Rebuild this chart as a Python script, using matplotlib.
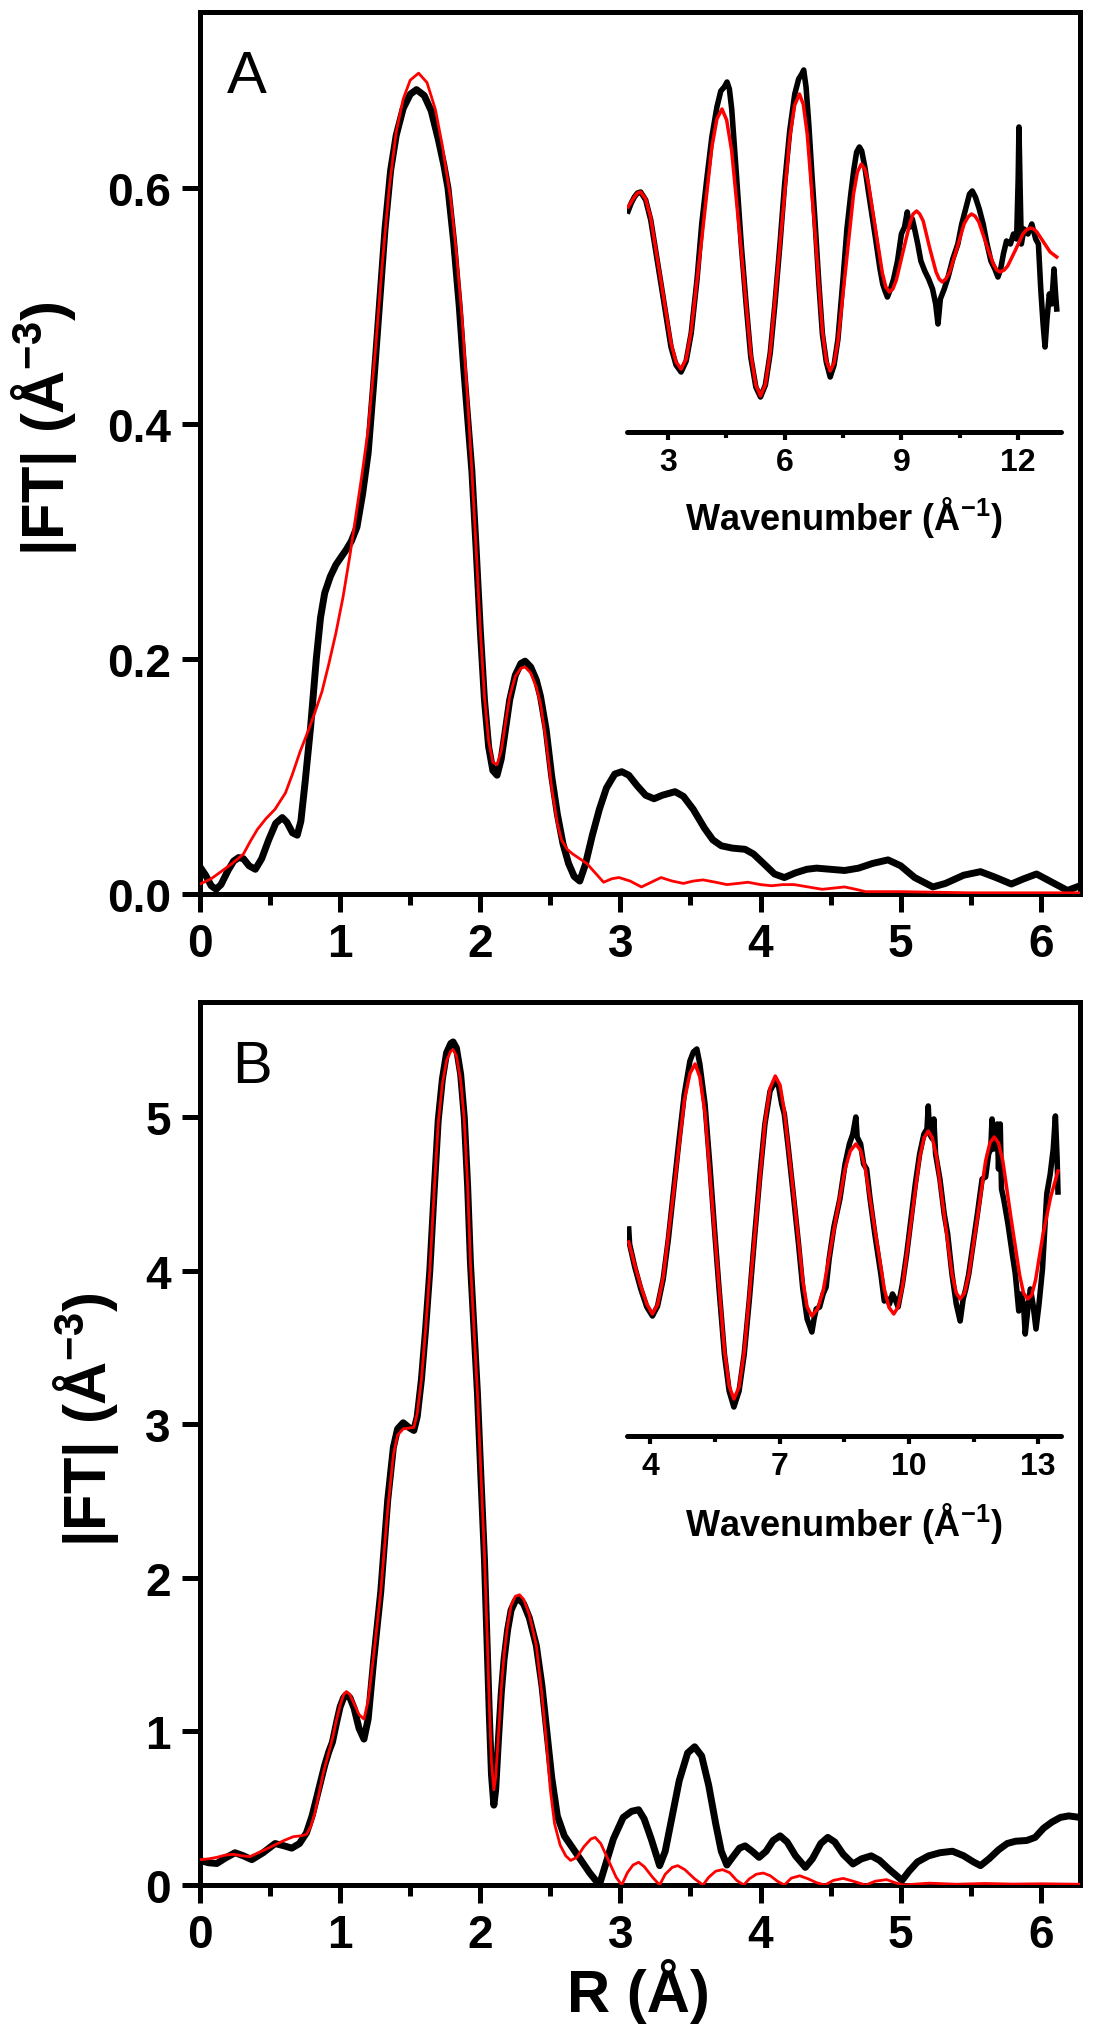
import matplotlib
matplotlib.use("Agg")
import matplotlib.pyplot as plt
from matplotlib.ticker import MultipleLocator, FixedLocator, FormatStrFormatter

plt.rcParams['font.family'] = ['Liberation Sans', 'DejaVu Sans']
plt.rcParams['mathtext.fontset'] = 'custom'
plt.rcParams['mathtext.rm'] = 'Liberation Sans'
plt.rcParams['mathtext.bf'] = 'Liberation Sans:bold'
plt.rcParams['mathtext.default'] = 'regular'

# ---- panel A : |FT| vs R ----
rA_exp = [0.00, 0.04, 0.08, 0.115, 0.15, 0.20, 0.24, 0.276, 0.31, 0.35, 0.395, 0.44, 0.49, 0.54, 0.587,
          0.62, 0.66, 0.694, 0.72, 0.75, 0.79, 0.83, 0.86, 0.89, 0.93, 0.97, 1.01, 1.045, 1.08, 1.12,
          1.16, 1.20, 1.24, 1.28, 1.32, 1.36, 1.40, 1.45, 1.50, 1.545, 1.60, 1.65, 1.70, 1.74, 1.77,
          1.81, 1.85, 1.88, 1.91, 1.94, 1.97, 2.00, 2.03, 2.06, 2.09, 2.12, 2.15, 2.18, 2.21, 2.25,
          2.29, 2.32, 2.36, 2.40, 2.43, 2.47, 2.51, 2.55, 2.59, 2.63, 2.67, 2.71, 2.75, 2.80, 2.85,
          2.90, 2.96, 3.01, 3.06, 3.12, 3.18, 3.24, 3.30, 3.39, 3.45, 3.52, 3.60, 3.66, 3.72, 3.80,
          3.89, 3.95, 4.03, 4.10, 4.17, 4.25, 4.33, 4.40, 4.50, 4.60, 4.70, 4.80, 4.91, 5.00, 5.10,
          5.23, 5.32, 5.45, 5.57, 5.68, 5.79, 5.88, 5.97, 6.08, 6.19, 6.28]
ftA_exp = [0.023, 0.016, 0.007, 0.004, 0.008, 0.020, 0.028, 0.031, 0.030, 0.024, 0.021, 0.030, 0.046, 0.060, 0.065,
           0.061, 0.052, 0.050, 0.062, 0.095, 0.143, 0.200, 0.235, 0.256, 0.270, 0.280, 0.287, 0.293, 0.300, 0.312,
           0.340, 0.375, 0.435, 0.500, 0.565, 0.615, 0.645, 0.668, 0.680, 0.684, 0.679, 0.666, 0.642, 0.620, 0.600,
           0.555, 0.500, 0.450, 0.405, 0.360, 0.295, 0.225, 0.165, 0.125, 0.105, 0.101, 0.115, 0.140, 0.165, 0.186,
           0.196, 0.198, 0.193, 0.182, 0.168, 0.140, 0.100, 0.068, 0.043, 0.026, 0.015, 0.011, 0.025, 0.050, 0.072,
           0.090, 0.102, 0.104, 0.101, 0.092, 0.084, 0.081, 0.084, 0.087, 0.083, 0.072, 0.056, 0.046, 0.041, 0.039,
           0.038, 0.034, 0.025, 0.017, 0.014, 0.018, 0.021, 0.022, 0.021, 0.020, 0.022, 0.026, 0.029, 0.024, 0.014,
           0.006, 0.009, 0.016, 0.019, 0.014, 0.0085, 0.013, 0.017, 0.010, 0.003, 0.007]
rA_fit = [0.00, 0.08, 0.15, 0.23, 0.31, 0.36, 0.41, 0.47, 0.535, 0.61, 0.66, 0.714, 0.77, 0.816, 0.87,
          0.918, 0.97, 1.02, 1.07, 1.12, 1.16, 1.20, 1.25, 1.30, 1.35, 1.40, 1.45, 1.50, 1.56, 1.62,
          1.68, 1.73, 1.79, 1.83, 1.87, 1.91, 1.94, 1.97, 2.00, 2.03, 2.06, 2.09, 2.12, 2.15, 2.18,
          2.21, 2.25, 2.29, 2.32, 2.36, 2.40, 2.43, 2.47, 2.51, 2.55, 2.58, 2.62, 2.66, 2.71, 2.76,
          2.82, 2.88, 2.94, 2.99, 3.07, 3.15, 3.22, 3.29, 3.37, 3.45, 3.52, 3.59, 3.68, 3.76, 3.84,
          3.91, 4.00, 4.08, 4.16, 4.24, 4.34, 4.44, 4.52, 4.60, 4.68, 4.75, 5.00, 5.50, 6.00, 6.28]
ftA_fit = [0.0085, 0.013, 0.019, 0.026, 0.034, 0.045, 0.055, 0.064, 0.072, 0.086, 0.102, 0.121, 0.138, 0.153, 0.172,
           0.195, 0.222, 0.252, 0.288, 0.328, 0.360, 0.395, 0.460, 0.535, 0.600, 0.648, 0.676, 0.692, 0.698, 0.690,
           0.667, 0.636, 0.590, 0.545, 0.490, 0.420, 0.360, 0.295, 0.225, 0.168, 0.130, 0.112, 0.110, 0.122, 0.145,
           0.168, 0.185, 0.192, 0.193, 0.188, 0.176, 0.162, 0.130, 0.090, 0.060, 0.046, 0.038, 0.034, 0.030, 0.026,
           0.018, 0.010, 0.013, 0.014, 0.011, 0.006, 0.010, 0.014, 0.011, 0.009, 0.011, 0.012, 0.010, 0.008, 0.009,
           0.010, 0.008, 0.007, 0.008, 0.008, 0.006, 0.004, 0.005, 0.006, 0.004, 0.002, 0.002, 0.001, 0.001, 0.001]

# ---- inset A : chi(k) ----
kA_exp = [1.98, 2.06, 2.14, 2.22, 2.30, 2.43, 2.56, 2.82, 3.08, 3.21, 3.34, 3.47, 3.60, 3.75, 3.87,
          4.00, 4.13, 4.26, 4.36, 4.45, 4.52, 4.58, 4.64, 4.76, 4.89, 5.01, 5.13, 5.26, 5.38, 5.505,
          5.63, 5.75, 5.88, 6.00, 6.13, 6.26, 6.36, 6.44, 6.49, 6.55, 6.62, 6.70, 6.78, 6.88, 6.97,
          7.07, 7.17, 7.27, 7.37, 7.50, 7.60, 7.70, 7.78, 7.85, 7.92, 7.98, 8.06, 8.15, 8.33, 8.45,
          8.52, 8.58, 8.64, 8.72, 8.80, 8.90, 9.00, 9.08, 9.15, 9.22, 9.28, 9.35, 9.42, 9.50, 9.60,
          9.70, 9.80, 9.88, 9.94, 10.00, 10.10, 10.20, 10.32, 10.45, 10.55, 10.65, 10.75, 10.82, 10.90,
          11.00, 11.10, 11.20, 11.30, 11.40, 11.48, 11.55, 11.62, 11.70, 11.80, 11.88, 11.96, 12.00,
          12.02, 12.05, 12.08, 12.15, 12.25, 12.35, 12.45, 12.52, 12.58, 12.64, 12.69, 12.74, 12.80,
          12.86, 12.92, 12.96, 12.99]
chiA_exp = [0.38, 0.46, 0.52, 0.56, 0.57, 0.49, 0.29, -0.34, -0.98, -1.16, -1.23, -1.12, -0.84, -0.30, 0.25,
            0.70, 1.12, 1.42, 1.58, 1.62, 1.67, 1.60, 1.40, 0.75, 0.02, -0.55, -1.08, -1.38, -1.48, -1.36,
            -1.04, -0.55, 0.05, 0.65, 1.18, 1.55, 1.70, 1.75, 1.79, 1.62, 1.25, 0.75, 0.28, -0.35, -0.85,
            -1.13, -1.28, -1.16, -0.90, -0.30, 0.20, 0.55, 0.80, 0.97, 1.02, 0.98, 0.82, 0.58, 0.12, -0.20,
            -0.35, -0.42, -0.48, -0.40, -0.30, -0.12, 0.15, 0.22, 0.37, 0.22, 0.30, 0.18, 0.05, -0.12, -0.22,
            -0.30, -0.40, -0.55, -0.75, -0.50, -0.40, -0.28, -0.10, 0.05, 0.25, 0.40, 0.55, 0.58, 0.52,
            0.40, 0.25, 0.05, -0.12, -0.20, -0.28, -0.20, -0.05, 0.08, 0.05, 0.15, 0.10, 0.70,
            1.22, 0.60, 0.05, 0.20, 0.15, 0.25, 0.10, 0.05, -0.40, -0.75, -0.98, -0.70, -0.45,
            -0.55, -0.20, -0.45, -0.60]
kA_fit = [1.98, 2.06, 2.14, 2.22, 2.30, 2.43, 2.56, 2.82, 3.08, 3.21, 3.34, 3.47, 3.60, 3.87, 4.13,
          4.26, 4.39, 4.51, 4.64, 4.89, 5.13, 5.26, 5.38, 5.505, 5.63, 5.88, 6.13, 6.255, 6.38, 6.48,
          6.58, 6.78, 6.97, 7.07, 7.17, 7.27, 7.37, 7.57, 7.77, 7.87, 7.97, 8.06, 8.15, 8.33, 8.51,
          8.60, 8.69, 8.78, 8.87, 9.04, 9.22, 9.30, 9.39, 9.47, 9.56, 9.72, 9.89, 9.97, 10.05, 10.14,
          10.24, 10.43, 10.61, 10.71, 10.80, 10.89, 10.99, 11.17, 11.36, 11.45, 11.54, 11.64, 11.73,
          11.93, 12.12, 12.21, 12.31, 12.40, 12.48, 12.65, 12.82, 12.99]
chiA_fit = [0.42, 0.47, 0.52, 0.56, 0.57, 0.50, 0.31, -0.315, -0.94, -1.13, -1.20, -1.10, -0.82, 0.10, 1.02,
            1.30, 1.40, 1.29, 0.98, -0.035, -1.05, -1.36, -1.47, -1.355, -1.03, 0.04, 1.11, 1.435, 1.55, 1.445,
            1.15, 0.17, -0.82, -1.115, -1.22, -1.14, -0.92, -0.19, 0.55, 0.77, 0.85, 0.80, 0.66, 0.21, -0.24,
            -0.38, -0.43, -0.40, -0.31, -0.03, 0.26, 0.35, 0.38, 0.35, 0.28, 0.02, -0.23, -0.30, -0.33, -0.30,
            -0.23, 0.01, 0.25, 0.32, 0.35, 0.33, 0.27, 0.06, -0.15, -0.21, -0.23, -0.21, -0.17,
            -0.01, 0.15, 0.19, 0.21, 0.20, 0.17, 0.07, -0.03, -0.08]

# ---- panel B : |FT| vs R ----
rB_exp = [0.00, 0.06, 0.12, 0.18, 0.25, 0.31, 0.37, 0.45, 0.536, 0.60, 0.655, 0.71, 0.76, 0.80, 0.83,
          0.86, 0.89, 0.92, 0.945, 0.975, 1.00, 1.025, 1.045, 1.07, 1.10, 1.135, 1.17, 1.20, 1.24, 1.29,
          1.34, 1.38, 1.41, 1.45, 1.49, 1.526, 1.55, 1.58, 1.61, 1.64, 1.67, 1.70, 1.73, 1.76, 1.79,
          1.806, 1.83, 1.86, 1.886, 1.91, 1.93, 1.955, 1.98, 2.005, 2.03, 2.05, 2.065, 2.08, 2.097, 2.11,
          2.13, 2.15, 2.17, 2.195, 2.22, 2.25, 2.28, 2.31, 2.35, 2.40, 2.44, 2.47, 2.51, 2.55, 2.60,
          2.66, 2.72, 2.78, 2.85, 2.90, 2.95, 3.02, 3.08, 3.13, 3.17, 3.22, 3.28, 3.32, 3.37, 3.42,
          3.48, 3.53, 3.58, 3.63, 3.68, 3.72, 3.76, 3.80, 3.85, 3.89, 3.94, 3.99, 4.04, 4.09, 4.14,
          4.19, 4.25, 4.32, 4.37, 4.43, 4.48, 4.53, 4.59, 4.66, 4.72, 4.79, 4.85, 4.92, 5.01, 5.06,
          5.12, 5.20, 5.28, 5.37, 5.45, 5.52, 5.57, 5.63, 5.70, 5.76, 5.82, 5.90, 5.96, 6.02, 6.08,
          6.14, 6.20, 6.28]
ftB_exp = [0.16, 0.145, 0.14, 0.175, 0.21, 0.19, 0.165, 0.21, 0.27, 0.255, 0.24, 0.27, 0.34, 0.45, 0.56,
           0.67, 0.78, 0.87, 0.93, 1.06, 1.16, 1.22, 1.24, 1.22, 1.15, 1.02, 0.95, 1.08, 1.47, 1.91,
           2.51, 2.85, 2.97, 3.01, 2.98, 2.96, 3.05, 3.29, 3.62, 4.00, 4.50, 4.98, 5.25, 5.42, 5.48,
           5.49, 5.45, 5.28, 5.00, 4.55, 4.05, 3.62, 3.20, 2.65, 2.12, 1.55, 1.10, 0.72, 0.52, 0.62,
           0.95, 1.25, 1.47, 1.66, 1.79, 1.85, 1.86, 1.83, 1.74, 1.56, 1.30, 1.04, 0.70, 0.45, 0.32,
           0.24, 0.16, 0.08, 0.00, 0.15, 0.30, 0.44, 0.48, 0.49, 0.43, 0.30, 0.126, 0.22, 0.45, 0.68,
           0.86, 0.90, 0.84, 0.65, 0.40, 0.22, 0.13, 0.18, 0.24, 0.255, 0.22, 0.18, 0.22, 0.29, 0.32,
           0.28, 0.19, 0.115, 0.17, 0.27, 0.31, 0.28, 0.20, 0.137, 0.17, 0.19, 0.16, 0.10, 0.03, 0.09,
           0.15, 0.19, 0.21, 0.22, 0.19, 0.15, 0.126, 0.17, 0.23, 0.27, 0.285, 0.29, 0.31, 0.37, 0.41,
           0.44, 0.45, 0.44]
rB_fit = [0.00, 0.06, 0.12, 0.18, 0.24, 0.30, 0.357, 0.44, 0.52, 0.60, 0.667, 0.72, 0.76, 0.79, 0.82,
          0.85, 0.88, 0.915, 0.947, 0.975, 1.00, 1.025, 1.045, 1.07, 1.10, 1.135, 1.17, 1.20, 1.24, 1.29,
          1.34, 1.38, 1.41, 1.45, 1.49, 1.526, 1.55, 1.58, 1.61, 1.64, 1.67, 1.70, 1.73, 1.76, 1.79,
          1.806, 1.83, 1.86, 1.886, 1.91, 1.93, 1.955, 1.98, 2.005, 2.03, 2.05, 2.065, 2.08, 2.097, 2.11,
          2.13, 2.15, 2.17, 2.195, 2.22, 2.25, 2.28, 2.31, 2.35, 2.40, 2.44, 2.47, 2.50, 2.53, 2.57,
          2.61, 2.645, 2.69, 2.74, 2.79, 2.82, 2.86, 2.92, 2.97, 3.01, 3.05, 3.09, 3.13, 3.17, 3.23,
          3.28, 3.32, 3.37, 3.41, 3.46, 3.53, 3.59, 3.63, 3.68, 3.73, 3.78, 3.83, 3.88, 3.92, 3.97,
          4.02, 4.07, 4.12, 4.17, 4.22, 4.28, 4.34, 4.40, 4.46, 4.52, 4.59, 4.66, 4.75, 4.82, 4.90,
          4.96, 5.02, 5.20, 5.40, 5.60, 5.80, 6.00, 6.28]
ftB_fit = [0.165, 0.17, 0.18, 0.195, 0.20, 0.19, 0.185, 0.22, 0.255, 0.29, 0.315, 0.32, 0.33, 0.38, 0.47,
           0.60, 0.73, 0.85, 0.96, 1.08, 1.17, 1.24, 1.26, 1.24, 1.18, 1.11, 1.08, 1.20, 1.50, 1.91,
           2.45, 2.80, 2.93, 2.97, 2.975, 2.98, 3.07, 3.29, 3.62, 4.00, 4.50, 4.96, 5.22, 5.37, 5.43,
           5.44, 5.40, 5.24, 4.98, 4.55, 4.05, 3.62, 3.20, 2.67, 2.15, 1.60, 1.16, 0.80, 0.62, 0.70,
           0.98, 1.28, 1.50, 1.69, 1.82, 1.88, 1.89, 1.86, 1.76, 1.56, 1.24, 0.95, 0.62, 0.40, 0.26,
           0.19, 0.16, 0.18, 0.25, 0.30, 0.31, 0.27, 0.15, 0.05, 0.00, 0.08, 0.13, 0.148, 0.12, 0.05,
           0.00, 0.07, 0.115, 0.126, 0.10, 0.04, 0.00, 0.05, 0.09, 0.10, 0.08, 0.03, 0.00, 0.04, 0.07,
           0.078, 0.06, 0.025, 0.00, 0.045, 0.06, 0.04, 0.015, 0.00, 0.03, 0.043, 0.025, 0.00, 0.025, 0.035,
           0.015, 0.00, 0.012, 0.005, 0.01, 0.006, 0.008, 0.005]

# ---- inset B : chi(k) ----
kB_exp = [3.50, 3.52, 3.64, 3.78, 3.92, 4.05, 4.17, 4.30, 4.42, 4.55, 4.67, 4.79, 4.92, 5.00, 5.08,
          5.15, 5.27, 5.38, 5.49, 5.60, 5.72, 5.83, 5.94, 6.06, 6.18, 6.30, 6.42, 6.54, 6.66, 6.78,
          6.90, 6.98, 7.05, 7.11, 7.20, 7.33, 7.44, 7.54, 7.64, 7.75, 7.80, 7.85, 7.93, 8.01, 8.08,
          8.15, 8.26, 8.40, 8.52, 8.62, 8.70, 8.77, 8.80, 8.88, 8.95, 9.02, 9.10, 9.21, 9.35, 9.43,
          9.50, 9.55, 9.62, 9.68, 9.75, 9.85, 9.95, 10.05, 10.15, 10.25, 10.35, 10.42, 10.45, 10.48,
          10.55, 10.58, 10.62, 10.72, 10.82, 10.90, 11.00, 11.10, 11.19, 11.26, 11.32, 11.39, 11.49,
          11.59, 11.70, 11.78, 11.85, 11.90, 11.93, 11.97, 12.00, 12.05, 12.08, 12.12, 12.15, 12.20,
          12.30, 12.40, 12.47, 12.55, 12.60, 12.66, 12.70, 12.76, 12.82, 12.88, 12.95, 13.02, 13.10,
          13.20, 13.28, 13.35, 13.40, 13.44, 13.46]
chiB_exp = [0.20, 0.05, -0.18, -0.40, -0.58, -0.67, -0.57, -0.30, 0.10, 0.62, 1.10, 1.55, 1.88, 1.97, 2.00,
            1.85, 1.45, 0.85, 0.20, -0.42, -1.05, -1.42, -1.58, -1.42, -1.05, -0.50, 0.12, 0.72, 1.25, 1.58,
            1.68, 1.62, 1.45, 1.35, 1.02, 0.50, 0.05, -0.40, -0.70, -0.83, -0.70, -0.60, -0.58, -0.45, -0.38,
            -0.10, 0.22, 0.50, 0.85, 1.05, 1.15, 1.32, 1.12, 1.05, 0.85, 0.80, 0.50, 0.15, -0.25, -0.52,
            -0.50, -0.55, -0.45, -0.50, -0.58, -0.35, -0.05, 0.30, 0.65, 0.95, 1.15, 1.20, 1.43, 1.15,
            1.10, 1.30, 0.95, 0.70, 0.35, 0.15, -0.25, -0.55, -0.72, -0.50, -0.40, -0.25, 0.05,
            0.35, 0.70, 0.72, 0.95, 1.00, 1.30, 1.00, 1.10, 1.25, 0.80, 1.25, 0.60, 0.50,
            0.25, -0.05, -0.25, -0.62, -0.45, -0.55, -0.85, -0.60, -0.40, -0.55, -0.80, -0.55, -0.20,
            0.55, 0.75, 1.00, 1.33, 0.90, 0.57]
kB_fit = [3.50, 3.64, 3.78, 3.92, 4.05, 4.17, 4.30, 4.55, 4.79, 4.92, 5.04, 5.15, 5.27, 5.49, 5.72,
          5.83, 5.94, 6.06, 6.18, 6.42, 6.66, 6.78, 6.90, 7.01, 7.11, 7.33, 7.54, 7.64, 7.75, 7.88,
          8.01, 8.26, 8.52, 8.64, 8.77, 8.88, 8.99, 9.21, 9.43, 9.54, 9.65, 9.75, 9.85, 10.05, 10.25,
          10.35, 10.45, 10.54, 10.64, 10.82, 11.00, 11.10, 11.19, 11.29, 11.39, 11.59, 11.78, 11.88,
          11.98, 12.08, 12.18, 12.37, 12.57, 12.66, 12.76, 12.85, 12.94, 13.11, 13.29, 13.46]
chiB_fit = [0.07, -0.16, -0.37, -0.55, -0.65, -0.555, -0.285, 0.60, 1.485, 1.755, 1.85, 1.72, 1.36, 0.175, -1.01,
            -1.37, -1.50, -1.38, -1.03, 0.115, 1.26, 1.61, 1.73, 1.64, 1.38, 0.53, -0.32, -0.58, -0.67, -0.60,
            -0.42, 0.19, 0.80, 0.98, 1.05, 0.985, 0.80, 0.20, -0.40, -0.585, -0.65, -0.58, -0.38, 0.265, 0.91,
            1.11, 1.18, 1.115, 0.93, 0.34, -0.25, -0.44, -0.50, -0.44, -0.26, 0.31, 0.88, 1.06,
            1.12, 1.06, 0.88, 0.31, -0.26, -0.44, -0.50, -0.46, -0.31, 0.14, 0.52, 0.78]

W, H = 1094, 2040
fig = plt.figure(figsize=(W / 100, H / 100), dpi=100)


def box(x0, y0, x1, y1):
    # pixel box -> figure fraction
    return [x0 / W, 1 - y1 / H, (x1 - x0) / W, (y1 - y0) / H]


def style_main(ax, ymax, ystep):
    ax.set_xlim(0, 6.28)
    ax.set_ylim(0, ymax)
    for s in ax.spines.values():
        s.set_linewidth(3.6)
    ax.xaxis.set_major_locator(MultipleLocator(1))
    ax.xaxis.set_minor_locator(MultipleLocator(0.5))
    ax.yaxis.set_major_locator(MultipleLocator(ystep))
    ax.tick_params(which='major', direction='out', length=13, width=3.6, labelsize=33, pad=7)
    ax.tick_params(axis='y', which='major', pad=8)
    ax.tick_params(which='minor', direction='out', length=8, width=3.6)
    ax.tick_params(top=False, right=False, which='both')
    for lab in ax.get_xticklabels() + ax.get_yticklabels():
        lab.set_fontweight('bold')


def style_inset(ax, xlim, ylim, majors, minors):
    ax.set_xlim(*xlim)
    ax.set_ylim(*ylim)
    ax.patch.set_visible(False)
    for side in ['left', 'top', 'right']:
        ax.spines[side].set_visible(False)
    ax.spines['bottom'].set_linewidth(3.6)
    ax.spines['bottom'].set_capstyle('round')
    ax.set_yticks([])
    ax.xaxis.set_major_locator(FixedLocator(majors))
    ax.xaxis.set_minor_locator(FixedLocator(minors))
    ax.tick_params(which='major', direction='out', length=6, width=3, labelsize=23, pad=5)
    ax.tick_params(which='minor', direction='out', length=4, width=3)
    for lab in ax.get_xticklabels():
        lab.set_fontweight('bold')


# panel A
axA = fig.add_axes(box(200, 13, 1080, 895))
axA.plot(rA_exp, ftA_exp, color='black', lw=5, solid_joinstyle='round', zorder=2)
axA.plot(rA_fit, ftA_fit, color='red', lw=2.0, zorder=3)
axA.yaxis.set_major_formatter(FormatStrFormatter('%.1f'))
style_main(axA, 0.75, 0.2)
axA.text(0.03, 0.958, 'A', transform=axA.transAxes, fontsize=43, ha='left', va='top')

insA = fig.add_axes(box(627, 50, 1061, 433))
insA.plot(kA_exp, chiA_exp, color='black', lw=4, solid_joinstyle='round')
insA.plot(kA_fit, chiA_fit, color='red', lw=2.5, solid_joinstyle='round')
style_inset(insA, (1.95, 13.1), (-1.83, 2.0), [3, 6, 9, 12], [4.5, 7.5, 10.5])
fig.text(844 / W, 1 - 518 / H, 'Wavenumber (Å$^{-1}$)', fontsize=26, fontweight='bold',
         ha='center', va='center')

# panel B
axB = fig.add_axes(box(200, 1003, 1080, 1886))
axB.plot(rB_exp, ftB_exp, color='black', lw=5, solid_joinstyle='round', zorder=2)
axB.plot(rB_fit, ftB_fit, color='red', lw=2.0, zorder=3)
style_main(axB, 5.75, 1)
axB.text(0.036, 0.958, 'B', transform=axB.transAxes, fontsize=43, ha='left', va='top')

insB = fig.add_axes(box(627, 1040, 1061, 1437))
insB.plot(kB_exp, chiB_exp, color='black', lw=4, solid_joinstyle='round')
insB.plot(kB_fit, chiB_fit, color='red', lw=2.5, solid_joinstyle='round')
style_inset(insB, (3.46, 13.53), (-1.87, 2.10), [4, 7, 10, 13], [5.5, 8.5, 11.5])
fig.text(844 / W, 1 - 1523 / H, 'Wavenumber (Å$^{-1}$)', fontsize=26, fontweight='bold',
         ha='center', va='center')

# axis titles
ylab = '|FT| (Å$^{-3}$)'
fig.text(44 / W, 1 - 429 / H, ylab, fontsize=43, fontweight='bold', rotation=90,
         ha='center', va='center')
fig.text(86 / W, 1 - 1420 / H, ylab, fontsize=43, fontweight='bold', rotation=90,
         ha='center', va='center')
fig.text(638 / W, 1 - 1992 / H, 'R (Å)', fontsize=43, fontweight='bold', ha='center', va='center')

fig.savefig('out.png', dpi=100)
